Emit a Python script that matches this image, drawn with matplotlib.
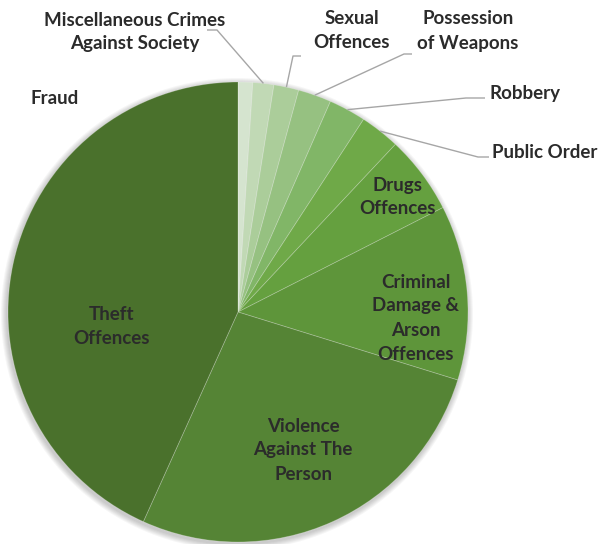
import matplotlib.pyplot as plt
import numpy as np

plt.rcParams['font.family'] = ['Lato', 'DejaVu Sans']

# pie data (degrees, clockwise from 12 o'clock)
categories = ['Fraud', 'Miscellaneous Crimes\nAgainst Society', 'Sexual\nOffences',
              'Possession\nof Weapons', 'Robbery', 'Public Order', 'Drugs\nOffences',
              'Criminal\nDamage &\nArson\nOffences', 'Violence\nAgainst The\nPerson',
              'Theft\nOffences']
values = [3.7, 5.3, 6.3, 8.4, 9.4, 10.1, 19.8, 44.2, 97.1, 155.7]
colors = ['#d5e4cf', '#c1d9b5', '#abcd9a', '#96c181', '#81b667', '#6fa948',
          '#65a03f', '#5e953a', '#558435', '#4a712c']

W, H = 601, 544
cx, cy, r = 238, H - 312, 230

fig = plt.figure(figsize=(W / 100, H / 100), dpi=100)
ax = fig.add_axes([0, 0, 1, 1])
ax.set_xlim(0, W)
ax.set_ylim(0, H)
ax.set_aspect('equal')
ax.axis('off')

# soft shadow around the pie
for k in range(6):
    ax.add_patch(plt.Circle((cx - 1, cy - 2), r + 1 + k, color='#000000', alpha=0.035, lw=0))

wedges, _ = ax.pie(values, colors=colors, startangle=90, counterclock=False,
                   center=(cx, cy), radius=r, frame=True,
                   wedgeprops=dict(edgecolor=(1, 1, 1, 0.25), linewidth=0.6))
ax.set_xlim(0, W)
ax.set_ylim(0, H)
ax.axis('off')

txt = dict(fontsize=13.5, fontweight='bold', color='#2b2b2b', ha='center', va='center',
           linespacing=1.5)


def mid_point(w, frac=1.0):
    a = np.deg2rad((w.theta1 + w.theta2) / 2)
    return cx + frac * r * np.cos(a), cy + frac * r * np.sin(a)


# inside labels (pixel positions from top)
inside = {6: (397, 197), 7: (416, 318), 8: (303, 450), 9: (112, 326)}
for i, (x, y) in inside.items():
    ax.text(x, H - y, categories[i], **txt)

# Fraud label sits outside without a leader
ax.text(55, H - 98, categories[0], **txt)

# labels with leader lines: (text centre, elbow start, elbow end)
outside = {1: ((135, 32), (207, 30), (217, 30)),
           2: ((352, 31), (301, 56), (293, 56)),
           3: ((468, 31), (412, 54), (404, 54)),
           4: ((525, 93), (485, 98), (466, 98)),
           5: ((545, 153), (489, 157), (478, 157))}
for i, ((tx, ty), (sx, sy), (ex, ey)) in outside.items():
    ax.text(tx, H - ty, categories[i], **txt)
    px, py = mid_point(wedges[i])
    ax.plot([sx, ex, px], [H - sy, H - ey, py], color='#a6a6a6', lw=1.0,
            solid_capstyle='butt')

fig.savefig('out.png', dpi=100)
